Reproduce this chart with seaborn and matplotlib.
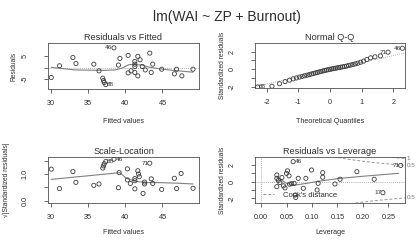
import numpy as np
import pandas as pd
import matplotlib
matplotlib.use("Agg")
import matplotlib.pyplot as plt
import matplotlib.transforms as mtransforms
from matplotlib.lines import Line2D
import seaborn as sns

# ---------------- data ----------------
main_title = "lm(WAI ~ ZP + Burnout)"

# Residuals vs Fitted
fitted = [30.1, 31.2, 33.0, 33.4, 35.8, 36.5, 37.0, 37.1, 37.2, 37.4, 38.5, 39.1, 39.3,
          40.4, 40.4, 40.8, 41.3, 41.3, 41.3, 41.3, 41.7, 41.7, 42.0, 42.3, 42.7, 43.3,
          43.5, 43.7, 44.9, 46.6, 46.9, 47.6, 49.1]
resid = [-4.3, 0.8, 4.4, 1.8, 1.5, -1.4, -4.6, -5.6, -6.5, -7.4, 8.6, 1.1, 4.0,
         5.3, -2.3, -1.4, 2.7, 1.5, 0.5, -2.1, 4.9, -3.6, 3.4, 0.5, -1.0, 6.3,
         -2.1, 1.5, -0.7, -2.7, -0.7, -3.6, -0.7]
fit_smooth_x = [30.1, 31.8, 33.3, 35.0, 37.3, 38.7, 39.6, 40.5, 41.2, 42.3, 43.2, 44.8, 46.4, 49.1]
fit_smooth_y = [0.1, -0.5, -1.0, -1.1, -1.2, -1.0, -0.2, 1.3, 1.3, 1.1, 0.2, -0.6, -1.2, -2.0]
fit_label_idx = [10, 9]
fit_label_txt = ["46", "88"]
fit_label_side = ["left", "right"]

# Normal Q-Q
qq_theoretical = [-2.287, -1.834, -1.593, -1.420, -1.282, -1.164, -1.061, -0.967, -0.881,
                  -0.802, -0.728, -0.657, -0.589, -0.524, -0.461, -0.400, -0.341, -0.282,
                  -0.224, -0.168, -0.112, -0.056, 0.0, 0.056, 0.112, 0.168, 0.224, 0.282,
                  0.341, 0.400, 0.461, 0.524, 0.589, 0.657, 0.728, 0.802, 0.881, 0.967,
                  1.061, 1.164, 1.282, 1.420, 1.593, 1.834, 2.287]
qq_std_resid = [-2.03, -1.95, -1.66, -1.42, -1.25, -1.10, -1.00, -0.90, -0.82, -0.75,
                -0.69, -0.62, -0.55, -0.49, -0.43, -0.37, -0.31, -0.25, -0.20, -0.15,
                -0.10, -0.05, -0.01, 0.03, 0.07, 0.11, 0.15, 0.19, 0.23, 0.27, 0.31,
                0.36, 0.42, 0.48, 0.54, 0.61, 0.69, 0.80, 0.93, 1.10, 1.30, 1.42, 1.52,
                1.95, 2.40]
qq_label_idx = [0, 43, 44]
qq_label_txt = ["88", "71", "46"]
qq_label_side = ["right", "left", "left"]
norm_quartile = 0.6745

# Scale-Location
sl_fitted = [30.1, 31.2, 33.0, 33.4, 35.8, 36.5, 37.0, 37.1, 37.2, 37.4, 38.5, 39.1, 39.2,
             40.3, 40.3, 40.7, 41.3, 41.3, 41.3, 41.7, 41.8, 41.9, 42.4, 42.6, 42.6, 43.3,
             43.5, 43.7, 44.9, 46.6, 46.9, 47.5, 49.1]
sl_sqrt_std = [1.18, 0.46, 1.09, 0.69, 0.58, 0.63, 1.22, 1.30, 1.38, 1.46, 1.55, 0.49, 1.05,
               1.19, 0.78, 0.65, 0.83, 0.75, 0.45, 1.12, 1.00, 0.90, 0.28, 0.70, 0.63, 1.40,
               0.82, 0.65, 0.43, 0.84, 0.46, 1.02, 0.47]
sl_smooth_x = [30.1, 33.0, 36.0, 39.3, 40.1, 41.4, 42.8, 44.6, 47.0, 49.1]
sl_smooth_y = [0.80, 0.88, 0.96, 1.05, 0.85, 0.73, 0.68, 0.68, 0.66, 0.63]
sl_label_idx = [9, 10, 25]
sl_label_txt = ["88", "46", "71"]
sl_label_side = ["right", "right", "left"]

# Residuals vs Leverage
lev_h = [0.031, 0.031, 0.031, 0.034, 0.037, 0.041, 0.044, 0.047, 0.050, 0.052, 0.055,
         0.056, 0.060, 0.063, 0.065, 0.067, 0.068, 0.073, 0.088, 0.083, 0.099, 0.110,
         0.112, 0.121, 0.121, 0.145, 0.155, 0.188, 0.222, 0.239, 0.274]
lev_std = [0.8, 0.4, -0.6, 0.15, -0.1, 0.5, -0.5, -0.75, 1.0, 1.3, 0.7,
           -0.3, -0.25, 2.4, -0.2, -1.6, -1.9, 0.4, 0.4, -0.8, 1.4, -1.0,
           -0.2, 1.08, 0.53, -0.28, 0.29, 1.2, 0.29, -1.32, 1.95]
lev_smooth_x = [0.031, 0.050, 0.067, 0.090, 0.112, 0.155, 0.200, 0.270]
lev_smooth_y = [0.6, -0.2, -0.4, -0.2, 0.05, 0.4, 0.65, 1.0]
lev_label_idx = [13, 29, 30]
lev_label_txt = ["46", "17", "71"]
lev_label_side = ["right", "left", "left"]
cook_levels = [0.5, 1.0]
n_coef = 3

# ---------------- style ----------------
sns.set_theme(style="white")
plt.rcParams["font.family"] = ["Liberation Sans", "DejaVu Sans"]
plt.rcParams["axes.unicode_minus"] = False

TXT = "#2e2e2e"
EDGE = "#505050"
PT = "#3c3c3c"
SMOOTH = "#808080"
REF = "#969696"

fig = plt.figure(figsize=(4.16, 2.40), dpi=100)
fig.patch.set_facecolor("white")
W, H = 416.0, 240.0


def make_axes(l, t, r, b):
    return fig.add_axes([l / W, 1 - b / H, (r - l) / W, (b - t) / H])


def style_axes(ax, title, xlabel, ylabel, xticks, xticklabels, yticks, yticklabels,
               xlim, ylim, xlab_y, ylab_x):
    ax.set_facecolor("white")
    ax.grid(False)
    ax.set_xlim(xlim)
    ax.set_ylim(ylim)
    ax.set_xticks(xticks)
    ax.set_xticklabels(xticklabels)
    ax.set_yticks(yticks)
    ax.set_yticklabels(yticklabels, rotation=90, va="center", ha="right")
    ax.tick_params(axis="both", direction="out", length=2.8, width=0.6, color=EDGE,
                   labelsize=5.2, labelcolor=TXT, left=True, bottom=True)
    ax.tick_params(axis="x", pad=5.0)
    ax.tick_params(axis="y", pad=11.0)
    for sp in ax.spines.values():
        sp.set_visible(True)
        sp.set_color(EDGE)
        sp.set_linewidth(0.6)
    ax.set_title(title, fontsize=6.6, color=TXT, pad=2.2)
    ax.set_xlabel(xlabel, fontsize=5.2, color=TXT)
    ax.xaxis.set_label_coords(0.5, xlab_y)
    ax.xaxis.label.set_va("center")
    ax.set_ylabel(ylabel, fontsize=4.8, color=TXT)
    ax.yaxis.set_label_coords(ylab_x, 0.5)
    ax.yaxis.label.set_va("center")


def points(ax, x, y):
    sns.scatterplot(x=x, y=y, ax=ax, s=9, linewidth=0.6, zorder=3)
    pc = ax.collections[-1]
    pc.set_facecolor("none")
    pc.set_edgecolor(PT)


def smooth(ax, x, y):
    sns.lineplot(x=x, y=y, ax=ax, color=SMOOTH, lw=0.8, sort=False, estimator=None, zorder=2)


def label(ax, xs, ys, idx, txt, side):
    for i, t, s in zip(idx, txt, side):
        off = -1.0 if s == "left" else 1.0
        ax.annotate(t, (xs[i], ys[i]), xytext=(off, 0), textcoords="offset points",
                    ha="right" if s == "left" else "left", va="center",
                    fontsize=4.6, color=TXT)


fig.text(227 / W, 1 - 17.5 / H, main_title, ha="center", va="center", fontsize=10, color=TXT)

# --- Residuals vs Fitted ---
ax1 = make_axes(48, 43, 199, 89)
ax1.axhline(0, color=REF, lw=0.6, ls=(0, (1, 1.5)), zorder=1)
points(ax1, fitted, resid)
smooth(ax1, fit_smooth_x, fit_smooth_y)
label(ax1, fitted, resid, fit_label_idx, fit_label_txt, fit_label_side)
style_axes(ax1, "Residuals vs Fitted", "Fitted values", "Residuals",
           [30, 35, 40, 45], ["30", "35", "40", "45"], [-5, 0, 5], ["-5", "", "5"],
           (29.66, 49.9), (-9.3, 10.7), -0.717, -0.225)

# --- Normal Q-Q ---
ax2 = make_axes(255, 43, 405, 88)
q1, q3 = np.quantile(qq_std_resid, [0.25, 0.75])
slope = (q3 - q1) / (2 * norm_quartile)
intercept = q1 + slope * norm_quartile
ax2.axline((0, intercept), slope=slope, color=REF, lw=0.6, ls=(0, (1, 1.5)), zorder=1)
points(ax2, qq_theoretical, qq_std_resid)
label(ax2, qq_theoretical, qq_std_resid, qq_label_idx, qq_label_txt, qq_label_side)
style_axes(ax2, "Normal Q-Q", "Theoretical Quantiles", "Standardized residuals",
           [-2, -1, 0, 1, 2], ["-2", "-1", "0", "1", "2"], [-2, -1, 0, 1, 2],
           ["-2", "", "0", "", "2"], (-2.37, 2.37), (-2.15, 3.0), -0.75, -0.215)

# --- Scale-Location ---
ax3 = make_axes(48, 157, 199, 203)
points(ax3, sl_fitted, sl_sqrt_std)
smooth(ax3, sl_smooth_x, sl_smooth_y)
label(ax3, sl_fitted, sl_sqrt_std, sl_label_idx, sl_label_txt, sl_label_side)
style_axes(ax3, "Scale-Location", "Fitted values", "\u221a|Standardized residuals|",
           [30, 35, 40, 45], ["30", "35", "40", "45"], [0, 0.5, 1.0, 1.5],
           ["0.0", "", "1.0", ""], (29.66, 49.9), (-0.075, 1.63), -0.652, -0.278)

# --- Residuals vs Leverage ---
ax4 = make_axes(255, 157, 405, 203)
ax4.axhline(0, color=REF, lw=0.6, ls=(0, (1, 1.5)), zorder=1)
ax4.axvline(0, color=REF, lw=0.6, ls=(0, (1, 1.5)), zorder=1)
lev_xlim = (-0.0118, 0.2824)
lev_ylim = (-2.56, 2.96)
hh = np.linspace(0.002, lev_xlim[1], 200)
for lvl in cook_levels:
    cl = np.sqrt(lvl * n_coef * (1 - hh) / hh)
    for sgn in (1, -1):
        sns.lineplot(x=hh, y=sgn * cl, ax=ax4, color=REF, lw=0.7, ls=(0, (3, 2)),
                     sort=False, estimator=None, zorder=1)
points(ax4, lev_h, lev_std)
smooth(ax4, lev_smooth_x, lev_smooth_y)
label(ax4, lev_h, lev_std, lev_label_idx, lev_label_txt, lev_label_side)
style_axes(ax4, "Residuals vs Leverage", "Leverage", "Standardized residuals",
           [0.0, 0.05, 0.10, 0.15, 0.20, 0.25], ["0.00", "0.05", "0.10", "0.15", "0.20", "0.25"],
           [-2, -1, 0, 1, 2], ["-2", "", "0", "", "2"], lev_xlim, lev_ylim, -0.652, -0.215)
trans = mtransforms.blended_transform_factory(ax4.transAxes, ax4.transData)
xmax = lev_xlim[1]
for lvl in cook_levels:
    yv = np.sqrt(lvl * n_coef * (1 - xmax) / xmax)
    for sgn in (1, -1):
        if lev_ylim[0] < sgn * yv < lev_ylim[1]:
            ax4.text(1.012, sgn * yv, f"{lvl:g}", transform=trans, ha="left", va="center",
                     fontsize=4.5, color="#777777", clip_on=False)
handle = Line2D([], [], color=REF, lw=0.7, ls=(0, (3, 2)))
ax4.legend([handle], ["Cook's distance"], loc="center left", bbox_to_anchor=(0.05, 0.174),
           frameon=False, fontsize=5.5, handlelength=1.5, handletextpad=1.2,
           borderpad=0, borderaxespad=0, labelcolor=TXT)

fig.savefig("out.png", dpi=100, facecolor="white")
